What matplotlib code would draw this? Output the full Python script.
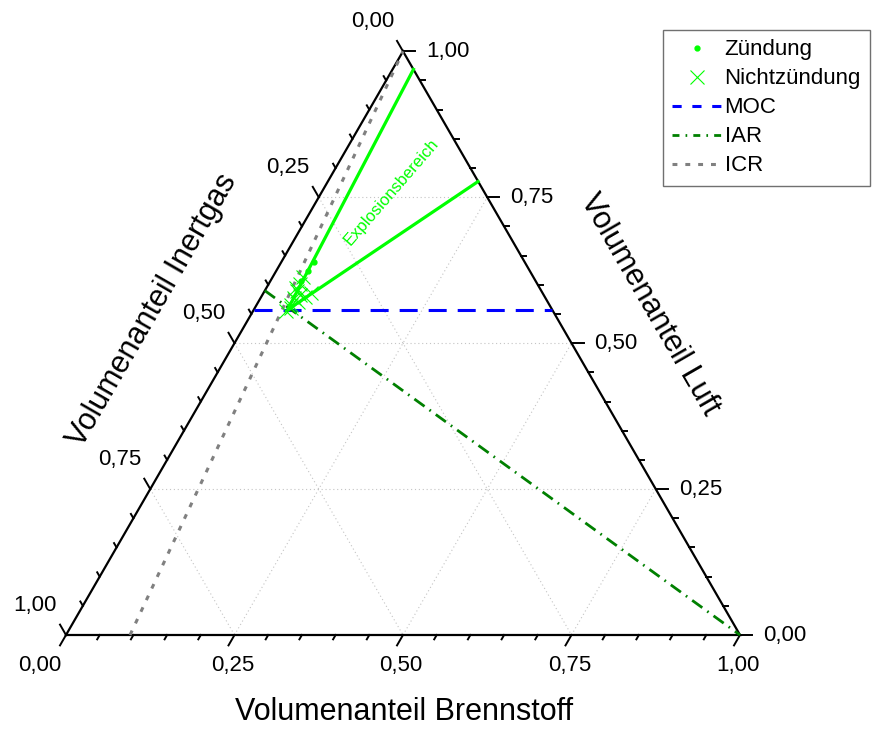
import numpy as np
import matplotlib.pyplot as plt
from matplotlib.lines import Line2D

plt.rcParams['font.family'] = ['Liberation Sans', 'DejaVu Sans']

# Volumenanteile: Brennstoff (b) und Luft (l); Inertgas = 1 - b - l
zuendung_b = [0.048, 0.047, 0.046]
zuendung_l = [0.639, 0.623, 0.606]

nicht_b = [0.051, 0.050, 0.048, 0.047, 0.045, 0.059, 0.065, 0.070, 0.049,
           0.054, 0.044, 0.056]
nicht_l = [0.565, 0.577, 0.589, 0.601, 0.613, 0.570, 0.579, 0.586, 0.555,
           0.560, 0.595, 0.583]

# Explosionsgrenzen: von der Spitze (Nase) bis zur Inertgas-freien Seite
nase_b, nase_l = 0.050, 0.557
ueg_b, ueg_l = 0.031, 0.969
oeg_b, oeg_l = 0.223, 0.777

moc_l = 0.5565
iar_b = [0.0, 1.0]
iar_l = [0.590, 0.0]
icr_b = [0.095, 0.0]
icr_l = [0.0, 1.0]

tick_values = [0.0, 0.25, 0.5, 0.75, 1.0]
tick_labels = ['0,00', '0,25', '0,50', '0,75', '1,00']

H = np.sqrt(3) / 2


def tern(b, l):
    b = np.asarray(b, dtype=float)
    l = np.asarray(l, dtype=float)
    return b + l / 2, l * H


fig = plt.figure(figsize=(8.75, 7.29), dpi=100)
ax = fig.add_axes([0, 0, 1, 1])
scale = 674.0
ax.set_xlim(-66 / scale, (875 - 66) / scale)
ax.set_ylim(-(729 - 635) / scale, 635 / scale)
ax.axis('off')

# gitter
grid_kw = dict(color='#c4c4c4', lw=0.8, ls=(0, (1, 2.5)), zorder=1)
for v in [0.25, 0.5, 0.75]:
    ax.plot(*tern([v, v], [0, 1 - v]), **grid_kw)          # Brennstoff konstant
    ax.plot(*tern([0, 1 - v], [v, v]), **grid_kw)          # Luft konstant
    ax.plot(*tern([0, 1 - v], [1 - v, 0]), **grid_kw)      # Inertgas konstant

# dreieck
ax.plot(*tern([0, 1, 0, 0], [0, 0, 1, 0]), color='black', lw=1.6, zorder=3,
        solid_joinstyle='miter')

# ticks
major = 12 / scale
minor = 5 / scale
dir_b = np.array([-0.5, -H])
dir_l = np.array([1.0, 0.0])
dir_i = np.array([-0.5, H])
for k in range(21):
    v = k * 0.05
    ln = major if k % 5 == 0 else minor
    for p, d in [(tern(v, 0), dir_b), (tern(1 - v, v), dir_l), (tern(0, 1 - v), dir_i)]:
        p = np.array(p, dtype=float)
        q = p + d * ln
        ax.plot([p[0], q[0]], [p[1], q[1]], color='black', lw=1.4, zorder=3)

lab_kw = dict(fontsize=16, textcoords='offset pixels', zorder=4)
for v, t in zip(tick_values, tick_labels):
    dx = -26 if v == 0 else -2
    ax.annotate(t, tern(v, 0), xytext=(dx, -30), ha='center', va='center', **lab_kw)
    ax.annotate(t, tern(1 - v, v), xytext=(23, 0), ha='left', va='center', **lab_kw)
    ax.annotate(t, tern(0, 1 - v), xytext=(-9, 30), ha='right', va='center', **lab_kw)


def px(x, y):
    return (x - 66) / scale, (635 - y) / scale


ax.text(*px(404, 712), 'Volumenanteil Brennstoff', fontsize=22, ha='center', va='center')
ax.text(*px(152, 310), 'Volumenanteil Inertgas', fontsize=22, rotation=60,
        ha='center', va='center', rotation_mode='anchor')
ax.text(*px(650, 305), 'Volumenanteil Luft', fontsize=22, rotation=-60,
        ha='center', va='center', rotation_mode='anchor')

# hilfslinien
ax.plot(*tern([0, 1 - moc_l], [moc_l, moc_l]), color='#0000ff', lw=2.2,
        dashes=(5.9, 3.6), zorder=5, label='MOC')
ax.plot(*tern(iar_b, iar_l), color='#008000', lw=2.0,
        dashes=(4.5, 2.2, 0.6, 2.2), zorder=5, label='IAR')
ax.plot(*tern(icr_b, icr_l), color='#808080', lw=2.2,
        dashes=(1.6, 2.6), zorder=5, label='ICR')

# explosionsbereich
ax.plot(*tern([ueg_b, nase_b, oeg_b], [ueg_l, nase_l, oeg_l]), color='#00ff00',
        lw=2.3, zorder=6, solid_joinstyle='miter')
ax.text(*px(391, 192), 'Explosionsbereich', color='#00ff00', fontsize=12,
        rotation=49, ha='center', va='center', rotation_mode='anchor')

# messpunkte
ax.plot(*tern(zuendung_b, zuendung_l), 'o', color='#00ff00', ms=3.5, zorder=7,
        label='Zündung')
ax.plot(*tern(nicht_b, nicht_l), 'x', color='#00ff00', ms=10, mew=0.8, zorder=7,
        label='Nichtzündung')

handles = [
    Line2D([], [], marker='o', ls='none', color='#00ff00', ms=3.5),
    Line2D([], [], marker='x', ls='none', color='#00ff00', ms=10, mew=0.8),
    Line2D([], [], color='#0000ff', lw=2.2, dashes=(3, 3.5)),
    Line2D([], [], color='#008000', lw=2.0, dashes=(2.5, 2.2, 0.6, 2.2)),
    Line2D([], [], color='#808080', lw=2.2, dashes=(1.6, 2.6)),
]
leg = ax.legend(handles, ['Zündung', 'Nichtzündung', 'MOC', 'IAR', 'ICR'],
                loc='upper left', bbox_to_anchor=(663 / 875, 1 - 30 / 729),
                bbox_transform=fig.transFigure, borderaxespad=0, fontsize=16,
                fancybox=False, framealpha=1, edgecolor='#707070',
                handlelength=2.2, handletextpad=0.15, labelspacing=0.36,
                borderpad=0.42)
leg.get_frame().set_linewidth(1.0)

fig.savefig('out.png', dpi=100)
